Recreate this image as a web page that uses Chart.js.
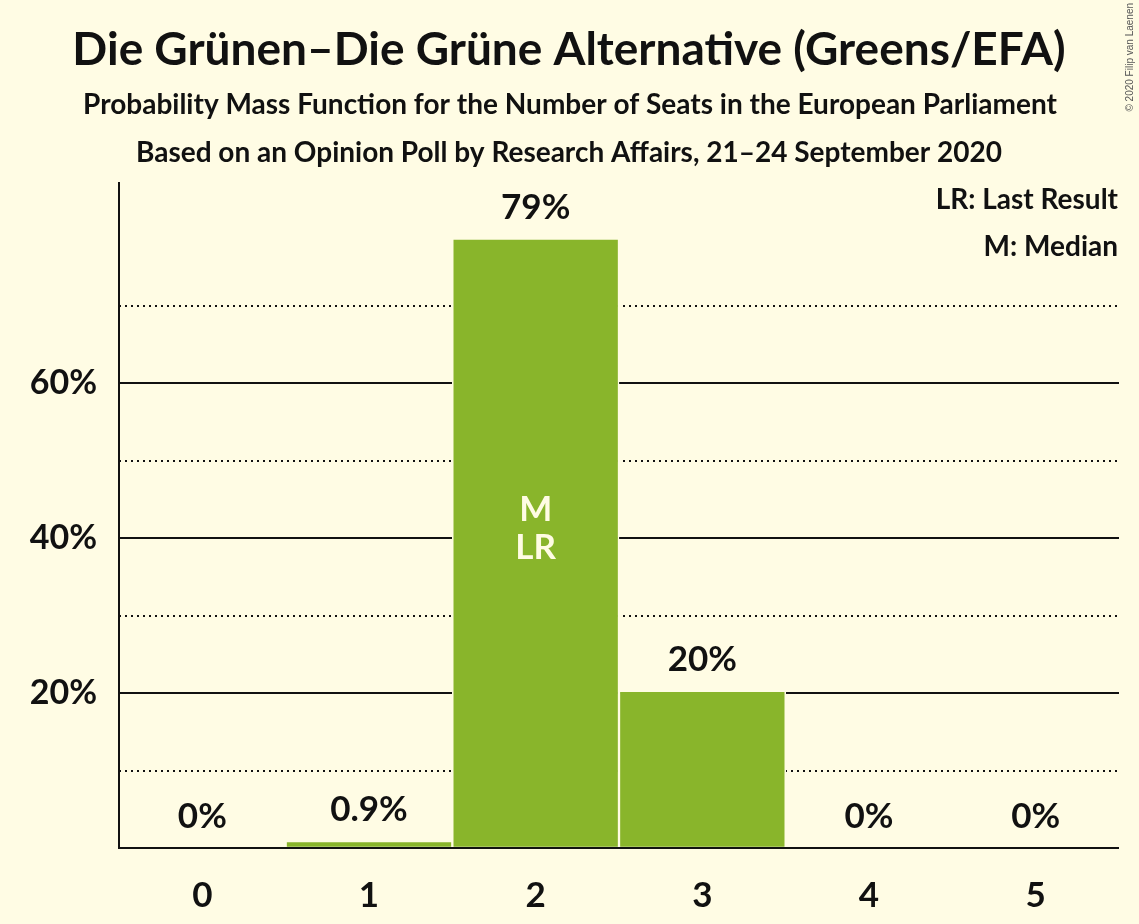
<!DOCTYPE html>
<html>
<head>
<meta charset="utf-8">
<script src="https://cdn.jsdelivr.net/npm/chart.js@4.4.0/dist/chart.umd.min.js"></script>
<style>
  html, body { margin: 0; padding: 0; background: #FFFCE4; }
  #wrap { width: 1139px; height: 924px; position: relative; }
</style>
</head>
<body>
<div id="wrap"><canvas id="mycanvas"></canvas></div>
<script>
// seats and probabilities (percent)
var seats = ['0', '1', '2', '3', '4', '5'];
var probability = [0, 0.9, 78.7, 20.3, 0, 0];
var valueLabels = ['0%', '0.9%', '79%', '20%', '0%', '0%'];
var yTickLabels = { 20: '20%', 40: '40%', 60: '60%' };
var solidLines = [20, 40, 60];
var dottedLines = [10, 30, 50, 70];
var medianSeat = 2;
var lastResultSeat = 2;

var bg = '#FFFCE4';
var green = '#89B52B';
var ink = '#111111';
var font = 'Lato, "DejaVu Sans", sans-serif';

var overlay = {
	id: 'overlay',
	beforeDatasetsDraw: function(chart) {
		var ctx = chart.ctx, area = chart.chartArea, y = chart.scales.y;
		ctx.save();
		ctx.strokeStyle = ink;
		ctx.lineWidth = 2;
		solidLines.forEach(function(v) {
			var py = Math.round(y.getPixelForValue(v));
			ctx.beginPath(); ctx.moveTo(area.left, py); ctx.lineTo(area.right, py); ctx.stroke();
		});
		ctx.lineWidth = 2;
		ctx.setLineDash([2, 4]);
		dottedLines.forEach(function(v) {
			var py = Math.round(y.getPixelForValue(v));
			ctx.beginPath(); ctx.moveTo(area.left, py); ctx.lineTo(area.right, py); ctx.stroke();
		});
		ctx.restore();
	},
	afterDatasetsDraw: function(chart) {
		var ctx = chart.ctx, area = chart.chartArea;
		var meta = chart.getDatasetMeta(0);
		ctx.save();
		// axes
		ctx.strokeStyle = ink;
		ctx.lineWidth = 2;
		ctx.beginPath();
		ctx.moveTo(area.left, area.top);
		ctx.lineTo(area.left, area.bottom);
		ctx.lineTo(area.right, area.bottom);
		ctx.stroke();

		// value labels
		ctx.fillStyle = ink;
		ctx.textAlign = 'center';
		ctx.textBaseline = 'middle';
		ctx.font = 'bold 35px ' + font;
		meta.data.forEach(function(bar, i) {
			ctx.fillText(valueLabels[i], bar.x, bar.y - 31);
		});

		// median / last result marks
		var b = meta.data[medianSeat];
		var mid = (b.y + b.base) / 2;
		ctx.fillStyle = bg;
		ctx.fillText('M', b.x, mid - 34);
		var b2 = meta.data[lastResultSeat];
		ctx.fillText('LR', b2.x, mid + 4);

		// titles
		ctx.fillStyle = ink;
		ctx.font = 'bold 46px ' + font;
		ctx.fillText('Die Grünen–Die Grüne Alternative (Greens/EFA)', 569, 50);
		ctx.font = 'bold 28px ' + font;
		ctx.fillText('Probability Mass Function for the Number of Seats in the European Parliament', 570, 105);
		ctx.fillText('Based on an Opinion Poll by Research Affairs, 21–24 September 2020', 569, 153);

		// legend
		ctx.textAlign = 'right';
		ctx.font = 'bold 28px ' + font;
		ctx.fillText('LR: Last Result', 1118, 200);
		ctx.fillText('M: Median', 1118, 247);

		// copyright
		ctx.translate(1130, 3);
		ctx.rotate(-Math.PI / 2);
		ctx.textAlign = 'right';
		ctx.font = '10px "Liberation Sans", Arial, sans-serif';
		ctx.fillStyle = '#555555';
		ctx.fillText('© 2020 Filip van Laenen', 0, 0);
		ctx.restore();
	}
};

var ctx = document.getElementById('mycanvas');
var chart = new Chart(ctx, {
	type: 'bar',
	data: {
		labels: seats,
		datasets: [{
			data: probability,
			backgroundColor: green,
			borderColor: bg,
			borderWidth: 1.5,
			borderSkipped: false,
			barPercentage: 1,
			categoryPercentage: 1
		}]
	},
	options: {
		responsive: true,
		maintainAspectRatio: false,
		animation: false,
		events: [],
		layout: { padding: { top: 182, right: 20, left: 0, bottom: 0 } },
		plugins: { legend: { display: false }, title: { display: false }, tooltip: { enabled: false } },
		scales: {
			x: {
				grid: { display: false, drawTicks: false },
				border: { display: false },
				ticks: { color: ink, padding: 27, font: { family: font, size: 35, weight: 'bold' } },
				afterFit: function(s) { s.height = 76; }
			},
			y: {
				min: 0,
				max: 86,
				grid: { display: false, drawTicks: false },
				border: { display: false },
				ticks: {
					stepSize: 10,
					color: ink,
					padding: 22,
					font: { family: font, size: 34, weight: 'bold' },
					callback: function(v) { return yTickLabels[v] || ''; }
				},
				afterFit: function(s) { s.width = 119; }
			}
		}
	},
	plugins: [overlay]
});
</script>
</body>
</html>
